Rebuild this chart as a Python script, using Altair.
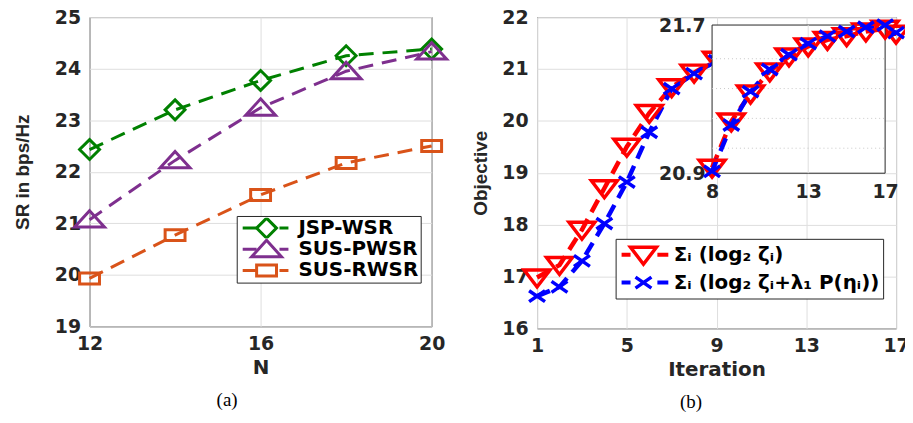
import altair as alt
import pandas as pd

# ---------------- panel (a) data ----------------
N_VALUES = [12, 14, 16, 18, 20]
SERIES_A = ["JSP-WSR", "SUS-PWSR", "SUS-RWSR"]
JSP_WSR = [22.43, 23.20, 23.77, 24.25, 24.38]
SUS_PWSR = [21.07, 22.22, 23.24, 23.95, 24.33]
SUS_RWSR = [19.93, 20.77, 21.55, 22.17, 22.50]
COLORS_A = ["#008000", "#7E2F8E", "#D95319"]
X_TICKS_A = [12, 16, 20]
Y_TICKS_A = [19, 20, 21, 22, 23, 24, 25]

# ---------------- panel (b) data ----------------
ITERATIONS = list(range(1, 18))
SERIES_B = ["Σᵢ (log₂ ζᵢ)", "Σᵢ (log₂ ζᵢ+λ₁ P(ηᵢ))"]
OBJ_RED = [16.98, 17.22, 17.90, 18.70, 19.50, 20.15, 20.65, 20.93, 21.18,
           21.33, 21.45, 21.53, 21.585, 21.62, 21.64, 21.665, 21.68]
OBJ_BLUE = [16.62, 16.80, 17.30, 18.02, 18.82, 19.78, 20.62, 20.91, 21.16,
            21.34, 21.46, 21.54, 21.60, 21.64, 21.665, 21.688, 21.70]
COLORS_B = ["#FF0000", "#0000FF"]
X_TICKS_B = [1, 5, 9, 13, 17]
Y_TICKS_B = [16, 17, 18, 19, 20, 21, 22]

INSET_START = 8
INSET_X_DOMAIN = [8, 17]
INSET_Y_DOMAIN = [20.9, 21.7]
INSET_X_TICKS = [8, 13, 17]
INSET_Y_TICKS = [20.9, 21.7]
INSET_GRID_X = [13]
INSET_GRID_Y = [21.035, 21.196, 21.357, 21.518]

# ---------------- tables ----------------
rows_a = []
for name, vals in zip(SERIES_A, [JSP_WSR, SUS_PWSR, SUS_RWSR]):
    for n, v in zip(N_VALUES, vals):
        rows_a.append({"N": n, "SR": v, "series": name, "series_m": name})
df_a = pd.DataFrame(rows_a)

rows_b = []
for name, vals in zip(SERIES_B, [OBJ_RED, OBJ_BLUE]):
    for it, v in zip(ITERATIONS, vals):
        rows_b.append({"iteration": it, "value": v, "series": name, "series_m": name})
df_b = pd.DataFrame(rows_b)

box_df = pd.DataFrame({"iteration": [INSET_X_DOMAIN[0]], "iteration_end": [INSET_X_DOMAIN[1]],
                       "value": [INSET_Y_DOMAIN[0]], "value_end": [INSET_Y_DOMAIN[1]]})
hgrid_df = pd.DataFrame({"value": INSET_GRID_Y,
                         "iteration": [INSET_X_DOMAIN[0]] * len(INSET_GRID_Y),
                         "iteration_end": [INSET_X_DOMAIN[1]] * len(INSET_GRID_Y)})
vgrid_df = pd.DataFrame({"iteration": INSET_GRID_X,
                         "value": [INSET_Y_DOMAIN[0]] * len(INSET_GRID_X),
                         "value_end": [INSET_Y_DOMAIN[1]] * len(INSET_GRID_X)})

# ---------------- symbols ----------------
EXT = "M0,-1M0,1"
EXT_LINE = "M0,-0.5M0,0.5"
SHAPES_A = [EXT + "M0,-1L1,0L0,1L-1,0Z",
            EXT + "M0,-0.9L1.5,0.75L-1.5,0.75Z",
            EXT + "M-1,-0.55H1V0.55H-1Z"]
LINE_SYMBOL_A = EXT_LINE + "M-2.4,0H-1.0M1.3,0H2.2"
SHAPES_B = [EXT + "M-1.3,-0.75H1.3L0,0.95Z",
            EXT + "M-0.8,-0.55L0.8,0.55M-0.8,0.55L0.8,-0.55"]
LINE_SYMBOL_B = EXT_LINE + "M-2.2,0H-1.3M1.4,0H2.5"

LABEL_FONT = "DejaVu Sans"


def line_legend(lx, ly, pad, rowpad, clip, so, lo, fs, path, sw):
    return alt.Legend(orient="none", legendX=lx, legendY=ly, title=None, padding=pad,
                      rowPadding=rowpad, clipHeight=clip, symbolType=path, symbolSize=400,
                      symbolStrokeWidth=sw, symbolOffset=so, symbolDash=[60, 1],
                      labelOffset=lo, labelFont=LABEL_FONT, labelFontSize=fs,
                      labelFontWeight="bold", labelColor="#000000", labelLimit=500,
                      strokeColor="#262626", fillColor="#ffffff", symbolOpacity=1)


def mark_legend(lx, ly, pad, rowpad, clip, so, lo, fs, sw):
    return alt.Legend(orient="none", legendX=lx, legendY=ly, title=None, padding=pad,
                      rowPadding=rowpad, clipHeight=clip, symbolSize=400, symbolStrokeWidth=sw,
                      symbolOffset=so, labelOffset=lo, labelFont=LABEL_FONT,
                      labelFontSize=fs, labelFontWeight="bold", labelOpacity=0,
                      labelLimit=500, symbolOpacity=1, symbolFillColor="transparent")


CAPTION = dict(orient="bottom", anchor="middle", frame="bounds", font="Liberation Serif",
               fontSize=19, fontWeight="normal", color="#000000", offset=14)

# ---------------- panel (a) ----------------
ax_xa = alt.Axis(values=X_TICKS_A, format="d", title="N", titleFont="DejaVu Sans",
                 titleFontSize=20, titleFontWeight="bold", labelPadding=8, titlePadding=4,
                 grid=True, labelFlush=False, labelOverlap=False)
ax_ya = alt.Axis(values=Y_TICKS_A, format="d", title="SR in bps/Hz", titleFont="Liberation Sans",
                 titleFontSize=19, titleFontWeight="bold", labelPadding=9, titlePadding=22,
                 grid=True, labelOverlap=False)
xa = alt.X("N:Q", scale=alt.Scale(domain=[12, 20], nice=False, zero=False), axis=ax_xa)
ya = alt.Y("SR:Q", scale=alt.Scale(domain=[19, 25], nice=False, zero=False), axis=ax_ya)

LA1 = line_legend(148, 200, 1.7, 0.3, 21, 16.8, 20.5, 20, LINE_SYMBOL_A, 3)
LA2 = mark_legend(148, 200, 1.7, 0.3, 21, 16.8, 20.5, 20, 3)

lines_a = alt.Chart(df_a).mark_line(strokeDash=[15, 9], strokeWidth=3).encode(
    x=xa, y=ya,
    color=alt.Color("series:N", sort=SERIES_A, scale=alt.Scale(range=COLORS_A), legend=LA1),
)
points_a = alt.Chart(df_a).mark_point(filled=False, strokeWidth=3, size=400, opacity=1).encode(
    x=xa, y=ya,
    stroke=alt.Stroke("series_m:N", scale=alt.Scale(domain=SERIES_A, range=COLORS_A), legend=LA2),
    shape=alt.Shape("series_m:N", scale=alt.Scale(domain=SERIES_A, range=SHAPES_A), legend=LA2),
)
panel_a = alt.layer(lines_a, points_a).properties(
    width=344, height=311, title=alt.TitleParams("(a)", dx=-6, **CAPTION))

# ---------------- panel (b) ----------------
ax_xb = alt.Axis(values=X_TICKS_B, format="d", title="Iteration", titleFont="DejaVu Sans",
                 titleFontSize=20, titleFontWeight="bold", labelPadding=8, titlePadding=4,
                 grid=True, labelFlush=False, labelOverlap=False)
ax_yb = alt.Axis(values=Y_TICKS_B, format="d", title="Objective", titleFont="Liberation Sans",
                 titleFontSize=19, titleFontWeight="bold", labelPadding=9, titlePadding=11,
                 grid=True, labelOverlap=False)
xb = alt.X("iteration:Q", scale=alt.Scale(domain=[1, 17], nice=False, zero=False), axis=ax_xb)
yb = alt.Y("value:Q", scale=alt.Scale(domain=[16, 22], nice=False, zero=False), axis=ax_yb)

LB1 = line_legend(79, 223, 3, 2, 26, 13, 18.5, 20, LINE_SYMBOL_B, 4)
LB2 = mark_legend(79, 223, 3, 2, 26, 13, 18.5, 20, 3.5)

color_b = alt.Color("series:N", sort=SERIES_B, scale=alt.Scale(range=COLORS_B), legend=LB1)
stroke_b = alt.Stroke("series_m:N", scale=alt.Scale(domain=SERIES_B, range=COLORS_B), legend=LB2)
shape_b = alt.Shape("series_m:N", scale=alt.Scale(domain=SERIES_B, range=SHAPES_B), legend=LB2)

lines_b = alt.Chart(df_b).mark_line(strokeDash=[14, 8], strokeWidth=4.5).encode(
    x=xb, y=yb, color=color_b)
points_b = alt.Chart(df_b).mark_point(filled=False, strokeWidth=3.5, size=400, opacity=1).encode(
    x=xb, y=yb, stroke=stroke_b, shape=shape_b)
main_b = alt.layer(lines_b, points_b)

# inset
ax_xi = alt.Axis(values=INSET_X_TICKS, format="d", title=None, orient="bottom", offset=-156,
                 grid=False, labelPadding=9, labelFlush=False, labelOverlap=False)
ax_yi = alt.Axis(values=INSET_Y_TICKS, format=".1f", title=None, orient="left", offset=-176,
                 grid=False, labelPadding=7, labelOverlap=False)
sc_xi = alt.Scale(domain=INSET_X_DOMAIN, range=[176, 350], nice=False, zero=False)
sc_yi = alt.Scale(domain=INSET_Y_DOMAIN, range=[157, 8], nice=False, zero=False)
xi = alt.X("iteration:Q", scale=sc_xi, axis=ax_xi)
yi = alt.Y("value:Q", scale=sc_yi, axis=ax_yi)

box_i = alt.Chart(box_df).mark_rect(fill="#ffffff", stroke="#262626", strokeWidth=1).encode(
    x=xi, x2="iteration_end:Q", y=yi, y2="value_end:Q")
vgrid_i = alt.Chart(vgrid_df).mark_rule(color="#dedede", strokeWidth=1).encode(
    x=xi, y=yi, y2="value_end:Q")
hgrid_i = alt.Chart(hgrid_df).mark_rule(color="#c8c8c8", strokeWidth=1, strokeDash=[1, 3]).encode(
    x=xi, x2="iteration_end:Q", y=yi)
lines_i = alt.Chart(df_b).transform_filter(alt.datum.iteration >= INSET_START).mark_line(
    strokeDash=[14, 8], strokeWidth=4.5).encode(x=xi, y=yi, color=color_b)
points_i = alt.Chart(df_b).transform_filter(alt.datum.iteration >= INSET_START).mark_point(
    filled=False, strokeWidth=3.5, size=400, opacity=1).encode(
    x=xi, y=yi, stroke=stroke_b, shape=shape_b)
inset_b = alt.layer(box_i, vgrid_i, hgrid_i, lines_i, points_i)

panel_b = alt.layer(main_b, inset_b).resolve_scale(x="independent", y="independent").properties(
    width=361, height=313, title=alt.TitleParams("(b)", dx=-3, **CAPTION))

chart = alt.hconcat(panel_a, panel_b, spacing=106, bounds="flush").resolve_scale(
    color="independent", stroke="independent", shape="independent"
).properties(
    padding={"left": 5, "top": -2, "right": -12, "bottom": 0},
    background="#ffffff",
).configure_view(
    stroke="#262626", strokeWidth=1
).configure_axis(
    labelFont=LABEL_FONT, labelFontSize=19, labelFontWeight="bold", labelColor="#262626",
    titleColor="#262626", gridColor="#dedede", gridWidth=1, domain=False, ticks=False,
)

chart.save("out.html", embed_options={"renderer": "svg", "actions": False})
